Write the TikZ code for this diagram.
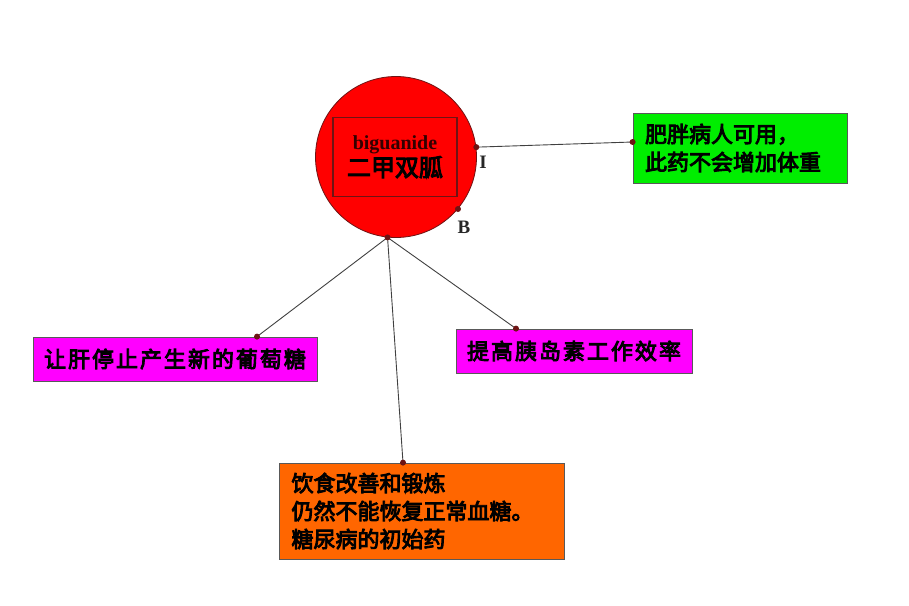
\documentclass[tikz,border=0pt]{standalone}
\usepackage{fontspec}
\setmainfont{Liberation Serif}
\newfontfamily\cjk[FakeBold=4]{Noto Sans CJK SC}
\usepackage{tikz}
\usetikzlibrary{positioning,calc}
\definecolor{pillred}{RGB}{255,0,0}
\definecolor{notegreen}{RGB}{0,238,0}
\definecolor{notepink}{RGB}{255,0,255}
\definecolor{noteorange}{RGB}{255,102,0}
\definecolor{rim}{RGB}{110,20,20}

\begin{document}
\begin{tikzpicture}[
    x=1pt, y=-1pt,
    box/.style={
      rectangle,
      draw=black!65,
      line width=0.8pt,
      inner sep=0pt,
      anchor=center,
      font=\cjk\fontsize{22}{28}\selectfont
    },
    link/.style={draw=black!75, line width=0.9pt},
    knob/.style={circle, fill=rim, inner sep=0pt, minimum size=6pt},
    tag/.style={font=\bfseries\fontsize{19}{19}\selectfont, text=black!85}
  ]
  \useasboundingbox (0,0) rectangle (909,605);
  % the drug
  \node[circle, draw=rim, line width=0.8pt, fill=pillred, minimum size=161pt, inner sep=0pt] (drug) at (396,157) {};
  \node[rectangle, draw=rim, line width=1.4pt, minimum width=124pt, minimum height=79pt,
        align=center, inner sep=0pt] (name) at (395,157)
    {{\bfseries\fontsize{20}{20}\selectfont\color{black!80!red} biguanide}\\[1pt]
     {\cjk\fontsize{24}{24}\selectfont 二甲双胍}};
  \node[tag] (tagI) at (483,162) {I};
  \node[tag] (tagB) at (464,227) {B};
  % the notes
  \node[box, fill=notegreen, minimum width=214pt, minimum height=70pt, text width=190pt, align=left]
    (weight) at (740,148) {肥胖病人可用，\\此药不会增加体重};
  \node[box, fill=notepink, minimum width=284pt, minimum height=44pt]
    (liver) at (175,359) {\addfontfeature{LetterSpace=9}让肝停止产生新的葡萄糖};
  \node[box, fill=notepink, minimum width=236pt, minimum height=44pt]
    (insulin) at (574,351) {\addfontfeature{LetterSpace=9}提高胰岛素工作效率};
  \node[box, fill=noteorange, minimum width=285pt, minimum height=96pt, text width=261pt, align=left]
    (first) at (422,511) {饮食改善和锻炼\\仍然不能恢复正常血糖。\\糖尿病的初始药};
  % joints
  \coordinate (cI) at (drug.7);
  \coordinate (cB) at (drug.-40);
  \coordinate (cD) at (drug.-96);
  \coordinate (pW) at ([yshift=6pt]weight.west);
  \coordinate (pL) at ([xshift=82pt]liver.north);
  \coordinate (pN) at ([xshift=-58pt]insulin.north);
  \coordinate (pF) at ([xshift=-19pt]first.north);
  \draw[link] (cI) -- (pW);
  \draw[link] (cD) -- (pL);
  \draw[link] (cD) -- (pN);
  \draw[link] (cD) -- (pF);
  \foreach \p in {cI,cB,cD,pW,pL,pN,pF}
    \node[knob] at (\p) {};
\end{tikzpicture}
\end{document}
